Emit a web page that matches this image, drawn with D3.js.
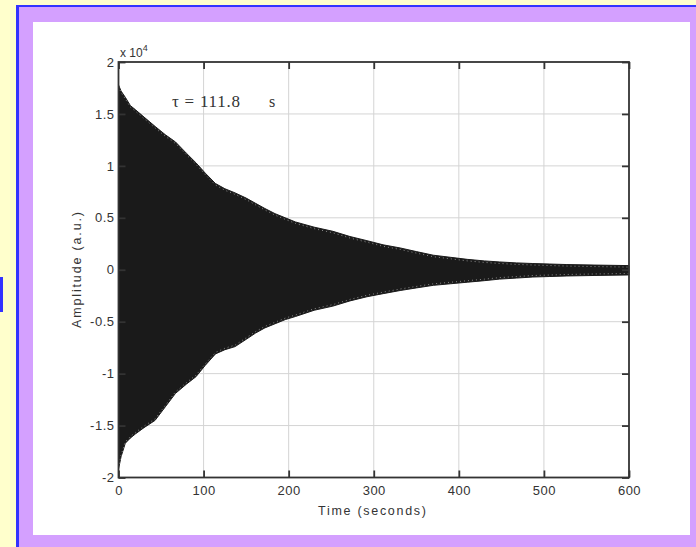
<!DOCTYPE html>
<html><head><meta charset="utf-8">
<script src="https://cdn.jsdelivr.net/npm/d3@7"></script>
<style>html,body{margin:0;padding:0;background:#ffffcc;}svg{display:block;}</style>
</head><body>
<script>
// Data (amplitude in a.u.)
const times = [0,3,8,14,20,30,43,55,67,80,91,102,114,125,137,150,161,172,184,196,208,230,252,272,292,311,331,350,370,390,410,430,448,468,487,507,527,560,600];
const upperEnv = [17800,17200,16600,15800,15400,14700,13800,13000,12300,11200,10300,9300,8300,7800,7400,6900,6400,5900,5400,5000,4600,4100,3700,3200,2800,2400,2100,1750,1400,1200,1000,850,750,660,600,550,500,450,400];
const lowerEnv = [-19200,-18000,-16700,-16200,-15800,-15200,-14500,-13200,-11900,-11000,-10300,-9200,-8100,-7700,-7400,-6700,-6100,-5600,-5200,-4800,-4500,-3900,-3500,-3000,-2600,-2300,-2000,-1750,-1500,-1350,-1200,-1050,-900,-800,-700,-650,-600,-550,-500];
const xTicks = [0,100,200,300,400,500,600];
const yTicks = [-20000,-15000,-10000,-5000,0,5000,10000,15000,20000];
const yTickLabels = ["-2","-1.5","-1","-0.5","0","0.5","1","1.5","2"];
const xLabel = "Time (seconds)";
const yLabel = "Amplitude (a.u.)";
const tauText = "τ = 111.8";

const W = 696, H = 547;
const svg = d3.select("body").append("svg").attr("width", W).attr("height", H);

// frame decoration
svg.append("rect").attr("x",0).attr("y",0).attr("width",W).attr("height",H).attr("fill","#ffffcc");
svg.append("rect").attr("x",16).attr("y",5).attr("width",W-16).attr("height",H-5).attr("fill","#3333ff");
svg.append("rect").attr("x",19).attr("y",7).attr("width",W-19).attr("height",H-7).attr("fill","#d4a0ff");
svg.append("rect").attr("x",33).attr("y",22).attr("width",657).attr("height",513).attr("fill","#ffffff");
svg.append("rect").attr("x",0).attr("y",277).attr("width",3).attr("height",35).attr("fill","#3333ff");

const L = 118.5, R = 629, T = 62, B = 477.5;
const x = d3.scaleLinear().domain([0,600]).range([L,R]);
const y = d3.scaleLinear().domain([-20000,20000]).range([B,T]);

const g = svg.append("g");
// grid
g.selectAll("line.gx").data(xTicks.slice(1,-1)).enter().append("line")
  .attr("x1",d=>x(d)).attr("x2",d=>x(d)).attr("y1",T).attr("y2",B)
  .attr("stroke","#d4d4d4").attr("stroke-width",1);
g.selectAll("line.gy").data(yTicks.slice(1,-1)).enter().append("line")
  .attr("y1",d=>y(d)).attr("y2",d=>y(d)).attr("x1",L).attr("x2",R)
  .attr("stroke","#d4d4d4").attr("stroke-width",1);

// signal envelope
const area = d3.area().x((d,i)=>x(times[i])).y0((d,i)=>y(lowerEnv[i])).y1((d,i)=>y(upperEnv[i]));
g.append("path").datum(times).attr("d",area).attr("fill","#1a1a1a")
  .attr("stroke","#1a1a1a").attr("stroke-width",1);
// speckled edge of the dense oscillation
const upLine = d3.line().x((d,i)=>x(times[i])).y((d,i)=>y(upperEnv[i])+1.5);
const loLine = d3.line().x((d,i)=>x(times[i])).y((d,i)=>y(lowerEnv[i])-1.5);
g.append("path").datum(times).attr("d",upLine).attr("fill","none").attr("stroke","#8a8a8a").attr("stroke-width",1).attr("stroke-dasharray","1,3");
g.append("path").datum(times).attr("d",loLine).attr("fill","none").attr("stroke","#8a8a8a").attr("stroke-width",1).attr("stroke-dasharray","1,3");

// axes (ticks inward, box)
const sans = "Liberation Sans, Arial, sans-serif";
const axStyle = sel => { sel.select(".domain").remove(); sel.selectAll("line").attr("stroke","#333").attr("stroke-width",1.8); sel.selectAll("text").attr("fill","#333").style("font-family",sans).style("font-size","13px").style("letter-spacing","0.5px"); };
svg.append("g").attr("transform",`translate(0,${B})`)
  .call(d3.axisBottom(x).tickValues(xTicks).tickSize(-7).tickPadding(8).tickFormat(d3.format("d")))
  .call(axStyle);
svg.append("g").attr("transform",`translate(0,${T})`)
  .call(d3.axisTop(x).tickValues(xTicks).tickSize(-7).tickFormat(""))
  .call(axStyle);
svg.append("g").attr("transform",`translate(${L},0)`)
  .call(d3.axisLeft(y).tickValues(yTicks).tickSize(-7).tickPadding(4).tickFormat((d,i)=>yTickLabels[i]))
  .call(axStyle);
svg.append("g").attr("transform",`translate(${R},0)`)
  .call(d3.axisRight(y).tickValues(yTicks).tickSize(-7).tickFormat(""))
  .call(axStyle);
svg.append("rect").attr("x",L).attr("y",T).attr("width",R-L).attr("height",B-T)
  .attr("fill","none").attr("stroke","#333").attr("stroke-width",1.8);

// labels
svg.append("text").attr("x",372).attr("y",515).attr("text-anchor","middle")
  .attr("textLength",108).attr("lengthAdjust","spacing")
  .attr("fill","#333").style("font-family",sans).style("font-size","12.5px").text(xLabel);
svg.append("text").attr("transform",`translate(81,${270}) rotate(-90)`).attr("text-anchor","middle")
  .attr("textLength",116).attr("lengthAdjust","spacing")
  .attr("fill","#333").style("font-family",sans).style("font-size","12.5px").text(yLabel);
const ex = svg.append("text").attr("x",120).attr("y",57).attr("fill","#333").style("font-family",sans).style("font-size","12px");
ex.append("tspan").text("x 10");
ex.append("tspan").attr("dy",-6).style("font-size","9px").text("4");

svg.append("text").attr("x",172).attr("y",107).attr("fill","#333")
  .attr("textLength",68).attr("lengthAdjust","spacing")
  .style("font-family","Liberation Serif, Times New Roman, serif").style("font-size","17px").text(tauText);
svg.append("text").attr("x",269).attr("y",107).attr("fill","#333")
  .style("font-family","Liberation Serif, Times New Roman, serif").style("font-size","16px").text("s");
</script>
</body></html>
